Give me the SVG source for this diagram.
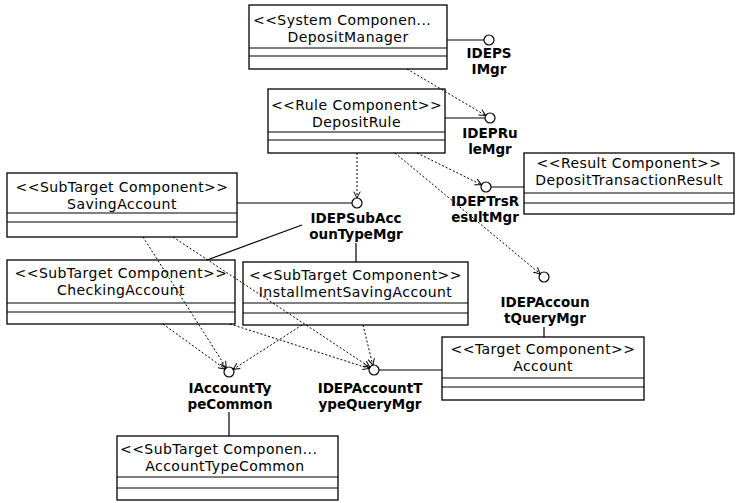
<svg xmlns="http://www.w3.org/2000/svg" width="736" height="503" viewBox="0 0 736 503">
  <style>
    .box { fill: #ffffff; stroke: #000000; stroke-width: 1.3; }
    .sep { stroke: #000000; stroke-width: 1.2; fill: none; }
    .name { font-family: "DejaVu Sans", "Liberation Sans", sans-serif; font-size: 14px; letter-spacing: 0.45px; fill: #000000; }
    .mid { text-anchor: middle; }
    .lbl { font-family: "DejaVu Sans", "Liberation Sans", sans-serif; font-size: 13.5px; font-weight: bold; fill: #000000; text-anchor: middle; }
    .ball { fill: #ffffff; stroke: #000000; stroke-width: 1.2; }
    .link { stroke: #000000; stroke-width: 1.2; fill: none; }
    .dep { stroke: #000000; stroke-width: 1; fill: none; stroke-dasharray: 2 2; marker-end: url(#open); }
  </style>
  <defs>
    <marker id="open" viewBox="0 0 10 10" refX="9" refY="5" markerWidth="8" markerHeight="8" markerUnits="userSpaceOnUse" orient="auto">
      <path d="M1,1 L9,5 L1,9" fill="none" stroke="#000000" stroke-width="1.2"/>
    </marker>
  </defs>

  <!-- component nodes -->
  <g id="DepositManager">
    <rect class="box" x="249" y="5" width="198" height="64"/>
    <line class="sep" x1="249" y1="48" x2="447" y2="48"/>
    <line class="sep" x1="249" y1="56" x2="447" y2="56"/>
    <text class="name" x="253" y="25">&lt;&lt;System Componen...</text>
    <text class="name mid" x="348" y="41.5">DepositManager</text>
  </g>
  <g id="DepositRule">
    <rect class="box" x="268" y="89" width="177" height="64"/>
    <line class="sep" x1="268" y1="132" x2="445" y2="132"/>
    <line class="sep" x1="268" y1="140" x2="445" y2="140"/>
    <text class="name mid" x="356.5" y="110">&lt;&lt;Rule Component&gt;&gt;</text>
    <text class="name mid" x="356.5" y="126.5">DepositRule</text>
  </g>
  <g id="DepositTransactionResult">
    <rect class="box" x="524" y="153" width="210" height="61"/>
    <line class="sep" x1="524" y1="193" x2="734" y2="193"/>
    <line class="sep" x1="524" y1="203" x2="734" y2="203"/>
    <text class="name mid" x="629" y="168">&lt;&lt;Result Component&gt;&gt;</text>
    <text class="name mid" x="629" y="184.5">DepositTransactionResult</text>
  </g>
  <g id="SavingAccount">
    <rect class="box" x="7" y="173" width="230" height="64"/>
    <line class="sep" x1="7" y1="213" x2="237" y2="213"/>
    <line class="sep" x1="7" y1="222" x2="237" y2="222"/>
    <text class="name mid" x="122" y="192">&lt;&lt;SubTarget Component&gt;&gt;</text>
    <text class="name mid" x="122" y="208.5">SavingAccount</text>
  </g>
  <g id="CheckingAccount">
    <rect class="box" x="7" y="260" width="228" height="64"/>
    <line class="sep" x1="7" y1="303" x2="235" y2="303"/>
    <line class="sep" x1="7" y1="312" x2="235" y2="312"/>
    <text class="name mid" x="121" y="278">&lt;&lt;SubTarget Component&gt;&gt;</text>
    <text class="name mid" x="121" y="294.5">CheckingAccount</text>
  </g>
  <g id="InstallmentSavingAccount">
    <rect class="box" x="243" y="262" width="225" height="63"/>
    <line class="sep" x1="243" y1="303" x2="468" y2="303"/>
    <line class="sep" x1="243" y1="313" x2="468" y2="313"/>
    <text class="name mid" x="355.5" y="280">&lt;&lt;SubTarget Component&gt;&gt;</text>
    <text class="name mid" x="355.5" y="296.5">InstallmentSavingAccount</text>
  </g>
  <g id="Account">
    <rect class="box" x="442" y="337" width="202" height="63"/>
    <line class="sep" x1="442" y1="378" x2="644" y2="378"/>
    <line class="sep" x1="442" y1="387" x2="644" y2="387"/>
    <text class="name mid" x="543" y="354">&lt;&lt;Target Component&gt;&gt;</text>
    <text class="name mid" x="543" y="370.5">Account</text>
  </g>
  <g id="AccountTypeCommon">
    <rect class="box" x="117" y="436" width="221" height="64"/>
    <line class="sep" x1="117" y1="477" x2="338" y2="477"/>
    <line class="sep" x1="117" y1="488" x2="338" y2="488"/>
    <text class="name" x="120" y="454">&lt;&lt;SubTarget Componen...</text>
    <text class="name mid" x="225" y="470.5">AccountTypeCommon</text>
  </g>

  <!-- provided interfaces (lollipops) -->
  <g id="IDEPSIMgr">
    <circle class="ball" cx="489" cy="40" r="5"/>
    <text class="lbl" x="489" y="58">IDEPS</text>
    <text class="lbl" x="489" y="74">IMgr</text>
  </g>
  <g id="IDEPRuleMgr">
    <circle class="ball" cx="490" cy="118" r="5"/>
    <text class="lbl" x="490" y="138">IDEPRu</text>
    <text class="lbl" x="490" y="154">leMgr</text>
  </g>
  <g id="IDEPTrsResultMgr">
    <circle class="ball" cx="486" cy="187" r="5"/>
    <text class="lbl" x="485" y="206">IDEPTrsR</text>
    <text class="lbl" x="485" y="222">esultMgr</text>
  </g>
  <g id="IDEPSubAccounTypeMgr">
    <circle class="ball" cx="357" cy="203" r="5"/>
    <text class="lbl" x="356" y="223">IDEPSubAcc</text>
    <text class="lbl" x="356" y="239">ounTypeMgr</text>
  </g>
  <g id="IDEPAccountQueryMgr">
    <circle class="ball" cx="544" cy="277" r="5"/>
    <text class="lbl" x="545" y="307">IDEPAccoun</text>
    <text class="lbl" x="545" y="323">tQueryMgr</text>
  </g>
  <g id="IAccountTypeCommon">
    <circle class="ball" cx="229" cy="372" r="5"/>
    <text class="lbl" x="230" y="393">IAccountTy</text>
    <text class="lbl" x="230" y="409">peCommon</text>
  </g>
  <g id="IDEPAccountTypeQueryMgr">
    <circle class="ball" cx="374" cy="370" r="5"/>
    <text class="lbl" x="370" y="393">IDEPAccountT</text>
    <text class="lbl" x="370" y="409">ypeQueryMgr</text>
  </g>

  <!-- connectors: realizations (solid) and usage dependencies (dashed) -->
  <g id="connectors">
    <line class="link" x1="447" y1="40" x2="484" y2="40"/>
    <line class="link" x1="445" y1="118" x2="485" y2="118"/>
    <line class="link" x1="491" y1="187" x2="524" y2="187"/>
    <line class="link" x1="237" y1="203" x2="352" y2="203"/>
    <line class="link" x1="207" y1="260" x2="302" y2="225"/>
    <line class="link" x1="356" y1="262" x2="356" y2="243"/>
    <line class="link" x1="544" y1="337" x2="544" y2="327"/>
    <line class="link" x1="379" y1="370" x2="442" y2="370"/>
    <line class="link" x1="229" y1="436" x2="229" y2="412"/>

    <line class="dep" x1="407" y1="69" x2="485.7" y2="115.5"/>
    <line class="dep" x1="357" y1="153" x2="357" y2="198"/>
    <line class="dep" x1="417" y1="153" x2="481.5" y2="184.8"/>
    <line class="dep" x1="395" y1="153" x2="540.2" y2="273.8"/>
    <line class="dep" x1="143" y1="237" x2="226.3" y2="367.8"/>
    <line class="dep" x1="173" y1="237" x2="369.8" y2="367.2"/>
    <line class="dep" x1="163" y1="324" x2="225" y2="369"/>
    <line class="dep" x1="230" y1="324" x2="369.2" y2="368.5"/>
    <line class="dep" x1="302" y1="325" x2="233.2" y2="369.3"/>
    <line class="dep" x1="363" y1="325" x2="372.8" y2="365.1"/>
  </g>
</svg>
